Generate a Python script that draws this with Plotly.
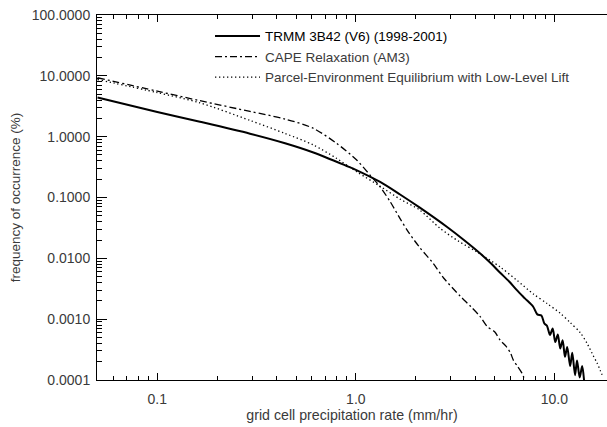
import numpy as np
import plotly.graph_objects as go

# ---- data ----
trmm_x = [0.05, 0.1, 0.164, 0.293, 0.44, 0.611, 0.90, 1.0, 1.325, 1.67, 2.10, 2.87, 3.5, 4.23,
          4.8, 5.33, 5.9, 6.47, 7.1, 7.82, 8.2, 8.6, 8.9, 9.17, 9.5, 9.8, 10.1, 10.4, 10.7, 11.0, 11.3, 11.6,
          12.0, 12.3, 12.7, 13.0, 13.4, 13.8, 14.1]
trmm_y = [4.4, 2.55, 1.76, 1.12, 0.78, 0.55, 0.33, 0.285, 0.18, 0.112, 0.068, 0.033, 0.020, 0.012,
          0.0082, 0.0058, 0.0042, 0.0030, 0.0022, 0.0016, 0.0012, 0.00115, 0.00085, 0.00078, 0.00055, 0.00070,
          0.00042, 0.00056, 0.00033, 0.00045, 0.00024, 0.00035, 0.00017, 0.00028, 0.00012, 0.00021, 0.00011,
          0.00017, 0.0001]

cape_x = [0.05, 0.1, 0.164, 0.293, 0.44, 0.611, 0.80, 1.01, 1.18, 1.325, 1.49, 1.67, 1.84, 2.1, 2.45, 2.76,
          3.35, 3.8, 4.23, 4.6, 5.0, 5.33, 5.7, 6.0, 6.22, 6.5, 6.86, 7.1]
cape_y = [9.3, 5.6, 3.9, 2.6, 1.95, 1.37, 0.776, 0.412, 0.233, 0.150, 0.085, 0.045, 0.027, 0.015, 0.0083, 0.0048,
          0.0024, 0.0016, 0.0011, 0.00075, 0.00062, 0.00045, 0.00036, 0.00028, 0.00021, 0.00017, 0.00013, 0.0001]

pe_x = [0.05, 0.1, 0.164, 0.293, 0.44, 0.611, 0.80, 1.01, 1.325, 1.67, 2.10, 2.66, 3.3, 4.06, 5.33, 6.5, 7.83,
        9.2, 10.7, 12.0, 13.5, 14.6, 15.7, 16.4, 17.0, 17.6]
pe_y = [8.7, 5.3, 3.6, 1.85, 1.13, 0.73, 0.44, 0.265, 0.153, 0.094, 0.062, 0.031, 0.019, 0.0128, 0.0072, 0.0043,
        0.0026, 0.0018, 0.00125, 0.00088, 0.00060, 0.00040, 0.00025, 0.00019, 0.000145, 0.00011]

names = ["TRMM 3B42 (V6) (1998-2001)", "CAPE Relaxation (AM3)",
         "Parcel-Environment Equilibrium with Low-Level Lift"]

x_tickvals = [0.1, 1.0, 10.0]
x_ticktext = ["0.1", "1.0", "10.0"]
y_tickvals = [0.0001, 0.001, 0.01, 0.1, 1, 10, 100]
y_ticktext = ["0.0001", "0.0010", "0.0100", "0.1000", "1.0000", "10.0000", "100.0000"]

FONT = "Liberation Sans, Arial, Helvetica, sans-serif"
GREY = "#3a3a3a"

fig = go.Figure()
fig.add_trace(go.Scatter(x=trmm_x, y=trmm_y, mode="lines",
                         name="<span style='color:#000'>" + names[0] + "</span>",
                         line=dict(color="black", width=2, shape="spline", smoothing=0.8)))
fig.add_trace(go.Scatter(x=cape_x, y=cape_y, mode="lines", name=names[1],
                         line=dict(color="black", width=1.3, dash="7px,3px,2px,3px",
                                   shape="spline", smoothing=0.8)))
fig.add_trace(go.Scatter(x=pe_x, y=pe_y, mode="lines", name=names[2],
                         line=dict(color="black", width=1.3, dash="1.3px,2.7px",
                                   shape="spline", smoothing=0.8)))

fig.update_layout(
    width=607, height=427,
    margin=dict(l=97, r=0, t=15, b=47),
    paper_bgcolor="white", plot_bgcolor="white",
    font=dict(family=FONT, size=13, color=GREY),
    showlegend=True,
    legend=dict(x=0.2216, y=0.984, xanchor="left", yanchor="top",
                bgcolor="rgba(0,0,0,0)", font=dict(size=13.5, color=GREY),
                tracegroupgap=0, itemwidth=45),
)
fig.update_xaxes(type="log", range=[np.log10(0.0497), np.log10(18.4)],
                 showgrid=False, zeroline=False,
                 showline=True, linecolor="black", linewidth=1, mirror="allticks",
                 ticks="inside", ticklen=7, tickcolor="black",
                 tickvals=x_tickvals, ticktext=x_ticktext, ticklabelstandoff=6,
                 tickfont=dict(size=14),
                 minor=dict(ticks="inside", ticklen=4, tickcolor="black", showgrid=False,
                            tickvals=[0.06, 0.07, 0.08, 0.09, 0.2, 0.3, 0.4, 0.5, 0.6, 0.7, 0.8, 0.9,
                                      2, 3, 4, 5, 6, 7, 8, 9]),
                 title=dict(text="grid cell precipitation rate (mm/hr)", font=dict(size=14.2, color=GREY),
                            standoff=2))
fig.update_yaxes(type="log", range=[-4, 2],
                 showgrid=False, zeroline=False,
                 showline=True, linecolor="black", linewidth=1, mirror=False,
                 ticks="inside", ticklen=10, tickcolor="black",
                 tickvals=y_tickvals, ticktext=y_ticktext, ticklabelstandoff=3,
                 tickfont=dict(size=14),
                 minor=dict(ticks="inside", ticklen=5, tickcolor="black", showgrid=False,
                            tickvals=[m * 10.0 ** e for e in range(-4, 2) for m in range(2, 10)]),
                 title=dict(text="frequency of occurrence (%)", font=dict(size=13.5, color=GREY),
                            standoff=8))

fig.write_html("out.html")
